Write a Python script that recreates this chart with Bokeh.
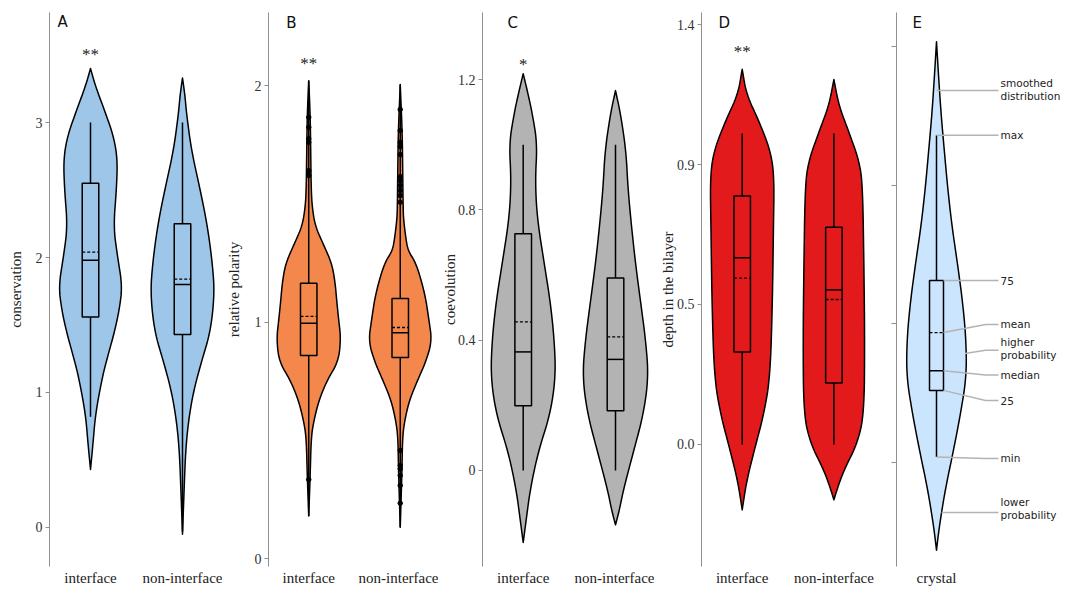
import numpy as np
from bokeh.plotting import figure
from bokeh.layouts import row
from bokeh.models import Range1d, FixedTicker, Label
from bokeh.embed import file_html
from bokeh.resources import INLINE
from bokeh.core.properties import value

categories = ["interface", "non-interface"]

# ---------------- Panel A : conservation ----------------
A_int_y = [3.40, 3.27, 3.07, 2.90, 2.73, 2.51, 2.23, 2.01, 1.79, 1.62, 1.45, 1.29, 1.12, 0.84, 0.62, 0.43]
A_int_w = [0.0, 0.054, 0.163, 0.25, 0.293, 0.283, 0.25, 0.293, 0.345, 0.315, 0.261, 0.196, 0.13, 0.054, 0.027, 0.0]
A_non_y = [3.33, 3.20, 3.07, 2.79, 2.51, 2.23, 1.95, 1.73, 1.45, 1.23, 1.01, 0.79, 0.56, 0.25, -0.05]
A_non_w = [0.0, 0.027, 0.043, 0.098, 0.19, 0.272, 0.326, 0.348, 0.304, 0.207, 0.12, 0.065, 0.033, 0.016, 0.0]
# stats: min, q1, median, q3, max, mean
A_int_stats = [0.82, 1.56, 1.98, 2.55, 3.0, 2.04]
A_non_stats = [-0.03, 1.43, 1.80, 2.25, 3.0, 1.84]
A_ticks = [0, 1, 2, 3]
A_tick_labels = ["0", "1", "2", "3"]

# ---------------- Panel B : relative polarity ----------------
B_int_y = [2.02, 1.88, 1.72, 1.565, 1.485, 1.405, 1.327, 1.248, 1.169, 1.09, 1.01, 0.93, 0.833, 0.753, 0.668, 0.584, 0.513, 0.35, 0.18]
B_int_w = [0.0, 0.016, 0.022, 0.027, 0.038, 0.072, 0.162, 0.252, 0.288, 0.306, 0.327, 0.351, 0.324, 0.2, 0.111, 0.057, 0.027, 0.016, 0.0]
B_non_y = [2.004, 1.80, 1.64, 1.47, 1.43, 1.36, 1.30, 1.25, 1.12, 1.01, 0.92, 0.833, 0.753, 0.668, 0.584, 0.513, 0.37, 0.132]
B_non_w = [0.0, 0.022, 0.027, 0.032, 0.038, 0.059, 0.086, 0.173, 0.27, 0.313, 0.346, 0.281, 0.189, 0.099, 0.049, 0.025, 0.019, 0.0]
B_int_stats = [0.18, 0.859, 0.995, 1.164, 2.02, 1.024]
B_non_stats = [0.132, 0.85, 0.955, 1.10, 2.004, 0.977]
B_int_out = [1.866, 1.824, 1.775, 1.76, 1.64, 1.62, 0.334]
B_non_out = [1.899, 1.81, 1.76, 1.742, 1.708, 1.615, 1.598, 1.577, 1.556, 1.535, 1.507,
             0.457, 0.393, 0.379, 0.351, 0.309, 0.234]
B_ticks = [0, 1, 2]
B_tick_labels = ["0", "1", "2"]

# ---------------- Panel C : coevolution ----------------
C_int_y = [1.218, 1.154, 1.096, 1.004, 0.889, 0.773, 0.635, 0.519, 0.404, 0.289, 0.173, 0.058, -0.058, -0.150, -0.221]
C_int_w = [0.0, 0.054, 0.098, 0.152, 0.13, 0.152, 0.228, 0.293, 0.336, 0.352, 0.293, 0.163, 0.076, 0.033, 0.0]
C_non_y = [1.166, 1.096, 0.981, 0.866, 0.750, 0.635, 0.519, 0.404, 0.289, 0.173, 0.058, -0.058, -0.12, -0.167]
C_non_w = [0.0, 0.054, 0.114, 0.135, 0.173, 0.217, 0.271, 0.325, 0.358, 0.303, 0.195, 0.087, 0.043, 0.0]
C_int_stats = [0.0, 0.199, 0.364, 0.727, 1.0, 0.456]
C_non_stats = [0.0, 0.183, 0.341, 0.591, 1.0, 0.41]
C_ticks = [0, 0.4, 0.8, 1.2]
C_tick_labels = ["0", "0.4", "0.8", "1.2"]

# ---------------- Panel D : depth in the bilayer ----------------
D_int_y = [1.206, 1.125, 1.040, 0.944, 0.859, 0.702, 0.460, 0.219, 0.098, -0.023, -0.120, -0.210]
D_int_w = [0.0, 0.047, 0.182, 0.309, 0.349, 0.341, 0.33, 0.305, 0.237, 0.128, 0.047, 0.0]
D_non_y = [1.173, 1.089, 1.004, 0.907, 0.823, 0.582, 0.340, 0.098, 0.002, -0.083, -0.143, -0.178]
D_non_w = [0.0, 0.055, 0.164, 0.281, 0.314, 0.327, 0.336, 0.33, 0.254, 0.109, 0.036, 0.0]
D_int_stats = [0.0, 0.297, 0.60, 0.799, 1.0, 0.535]
D_non_stats = [0.0, 0.198, 0.497, 0.698, 1.0, 0.466]
D_ticks = [0, 0.45, 0.9, 1.35]
D_tick_labels = ["0.0", "0.5", "0.9", "1.4"]

# ---------------- Panel E : legend violin ----------------
E_y = [3.033, 2.79, 2.518, 2.247, 1.976, 1.705, 1.434, 1.163, 0.892, 0.621, 0.350, 0.079, -0.192, -0.464, -0.632]
E_w = [0.0, 0.022, 0.049, 0.085, 0.122, 0.168, 0.228, 0.283, 0.321, 0.326, 0.261, 0.182, 0.096, 0.03, 0.0]
E_stats = [0.04, 0.52, 0.661, 1.312, 2.36, 0.937]
E_ticks = [0, 1, 2, 3]
E_category = ["crystal"]
E_labels = ["smoothed\ndistribution", "max", "75", "mean", "higher\nprobability",
            "median", "25", "min", "lower\nprobability"]
E_label_y = [2.69, 2.36, 1.312, 0.995, 0.822, 0.631, 0.447, 0.029, -0.332]

ylabels = ["conservation", "relative polarity", "coevolution", "depth in the bilayer"]
stars = ["**", "**", "*", "**"]
letters = ["A", "B", "C", "D", "E"]

colors = ["#9DC6E8", "#F4884C", "#B3B3B3", "#E31A1C", "#CCE5FF"]

SERIF = "Liberation Serif"
SANS = "DejaVu Sans"
AXIS_GRAY = "#8f8f8f"
H = 590
TOP = 12
BOTTOM = 24


def base_figure(width, mbl, xr, yr, ticks, tick_labels, ylabel, xcats, label_standoff,
                show_labels=True):
    p = figure(width=width, height=H, x_range=Range1d(*xr), y_range=Range1d(*yr),
               output_backend="svg", toolbar_location=None,
               min_border_left=mbl, min_border_right=0, min_border_top=TOP, min_border_bottom=BOTTOM)
    p.outline_line_color = None
    p.background_fill_color = "white"
    p.border_fill_color = "white"
    p.xgrid.visible = False
    p.ygrid.visible = False
    ya = p.yaxis[0]
    ya.ticker = FixedTicker(ticks=ticks)
    ya.axis_line_color = AXIS_GRAY
    ya.major_tick_line_color = AXIS_GRAY
    ya.major_tick_out = 4
    ya.major_tick_in = 0
    ya.minor_tick_line_color = None
    ya.major_label_standoff = 3
    ya.major_label_text_font = SERIF
    ya.major_label_text_font_size = "14px"
    ya.major_label_text_color = "#333333"
    if show_labels:
        ya.major_label_overrides = {t: l for t, l in zip(ticks, tick_labels)}
        ya.axis_label = ylabel
        ya.axis_label_standoff = label_standoff
        ya.axis_label_text_font = SERIF
        ya.axis_label_text_font_size = "15px"
        ya.axis_label_text_font_style = "normal"
        ya.axis_label_text_color = "#222222"
    else:
        ya.major_label_overrides = {t: "" for t in ticks}
        ya.major_tick_out = 5
    xa = p.xaxis[0]
    xa.ticker = FixedTicker(ticks=list(range(1, len(xcats) + 1)))
    xa.major_label_overrides = {i + 1: c for i, c in enumerate(xcats)}
    xa.axis_line_color = None
    xa.major_tick_line_color = None
    xa.major_tick_out = 0
    xa.major_tick_in = 0
    xa.minor_tick_line_color = None
    xa.major_label_standoff = 3
    xa.major_label_text_font = SERIF
    xa.major_label_text_font_size = "15px"
    xa.major_label_text_color = "#222222"
    return p


def smooth_profile(y, w, n=3):
    """Chaikin corner cutting of the outline (drawing only), end points kept."""
    pts = np.column_stack([np.asarray(y, float), np.asarray(w, float)])
    for _ in range(n):
        q = 0.75 * pts[:-1] + 0.25 * pts[1:]
        r = 0.25 * pts[:-1] + 0.75 * pts[1:]
        new = np.empty((2 * len(q), 2))
        new[0::2] = q
        new[1::2] = r
        pts = np.vstack([pts[0], new, pts[-1]])
    return pts[:, 0], pts[:, 1]


def violin(p, c, ys, ws, stats, color, box_hw=0.09):
    ys, ws = smooth_profile(ys, ws)
    xs = np.concatenate([c + ws, (c - ws)[::-1]])
    yy = np.concatenate([ys, ys[::-1]])
    p.patch(xs, yy, fill_color=color, line_color="black", line_width=1.5, line_join="round")
    mn, q1, med, q3, mx, mean = stats
    p.segment(x0=[c, c], y0=[q3, mn], x1=[c, c], y1=[mx, q1], line_color="black", line_width=1.5)
    p.quad(left=[c - box_hw], right=[c + box_hw], bottom=[q1], top=[q3],
           fill_alpha=0, line_color="black", line_width=1.5)
    p.segment(x0=[c - box_hw], y0=[med], x1=[c + box_hw], y1=[med], line_color="black", line_width=1.5)
    p.segment(x0=[c - box_hw], y0=[mean], x1=[c + box_hw], y1=[mean], line_color="black",
              line_width=1.3, line_dash="3 2")


def letter(p, x, y, t):
    p.add_layout(Label(x=x, y=y, text=t, text_font=SANS, text_font_size="15px",
                       text_baseline="middle", text_align="left", text_color="#111111"))


def star(p, y, t):
    p.text(x=[1], y=[y], text=[t], text_font=value(SERIF), text_font_size="17px",
           text_align="center", text_baseline="middle", text_color="#222222")


# Panel A  (frame x 49..222)
pA = base_figure(222, 49, (0.5543, 2.4348), (-0.289, 3.815), A_ticks, A_tick_labels, ylabels[0],
                 categories, 9)
violin(pA, 1, A_int_y, A_int_w, A_int_stats, colors[0])
violin(pA, 2, A_non_y, A_non_w, A_non_stats, colors[0])
letter(pA, 0.641, 3.748, letters[0])
star(pA, 3.504, stars[0])

# Panel B  (frame x 266..438)
pB = base_figure(216, 44, (0.5605, 2.418), (-0.0338, 2.309), B_ticks, B_tick_labels, ylabels[1],
                 categories, 10)
violin(pB, 1, B_int_y, B_int_w, B_int_stats, colors[1])
violin(pB, 2, B_non_y, B_non_w, B_non_stats, colors[1])
pB.scatter(x=[1] * len(B_int_out), y=B_int_out, size=4.5, color="black")
pB.scatter(x=[2] * len(B_non_out), y=B_non_out, size=4.5, color="black")
letter(pB, 0.755, 2.266, letters[1])
star(pB, 2.093, stars[1])

# Panel C  (frame x 482..654)
pC = base_figure(216, 44, (0.559, 2.4225), (-0.2947, 1.4058), C_ticks, C_tick_labels, ylabels[2],
                 categories, -3)
violin(pC, 1, C_int_y, C_int_w, C_int_stats, colors[2])
violin(pC, 2, C_non_y, C_non_w, C_non_stats, colors[2])
letter(pC, 0.83, 1.375, letters[2])
star(pC, 1.246, stars[2])

# Panel D  (frame x 701..878)
pD = base_figure(224, 47, (0.5562, 2.4864), (-0.3922, 1.3886), D_ticks, D_tick_labels, ylabels[3],
                 categories, -2)
violin(pD, 1, D_int_y, D_int_w, D_int_stats, colors[3])
violin(pD, 2, D_non_y, D_non_w, D_non_stats, colors[3])
letter(pD, 0.742, 1.356, letters[3])
star(pD, 1.263, stars[3])

# Panel E  (frame x 896..1065)
pE = base_figure(187, 18, (0.5652, 2.4022), (-0.7498, 3.2444), E_ticks, [], "", E_category, 0,
                 show_labels=False)
mn, q1, med, q3, mx, mean = E_stats
bhw = 0.076
x_txt_end = 1.674
x_bend = 1.533
lead_x = [
    [1.0, x_txt_end],
    [1.0, x_txt_end],
    [1 + bhw, x_txt_end],
    [1 + bhw, x_bend, x_txt_end],
    [1.31, x_bend, x_txt_end],
    [1 + bhw, x_bend, x_txt_end],
    [1 + bhw, x_bend, x_txt_end],
    [1.0, x_bend, x_txt_end],
    [1.055, x_txt_end],
]
lead_y = [
    [2.682, 2.682],
    [mx, mx],
    [q3, q3],
    [mean, E_label_y[3], E_label_y[3]],
    [0.786, 0.81, 0.81],
    [med, E_label_y[5], E_label_y[5]],
    [q1, E_label_y[6], E_label_y[6]],
    [mn, E_label_y[7], E_label_y[7]],
    [-0.36, -0.36],
]
violin(pE, 1, E_y, E_w, E_stats, colors[4], box_hw=bhw)
pE.multi_line(xs=lead_x, ys=lead_y, line_color="#b3b3b3", line_width=1.5)
pE.text(x=[1.696] * len(E_labels), y=E_label_y, text=E_labels, text_font=value(SANS),
        text_font_size="10.5px", text_align="left", text_baseline="middle",
        text_line_height=1.05, text_color="#222222")
letter(pE, 0.739, 3.172, letters[4])

layout = row(pA, pB, pC, pD, pE, spacing=0)
open("out.html", "w").write(file_html(layout, INLINE))
